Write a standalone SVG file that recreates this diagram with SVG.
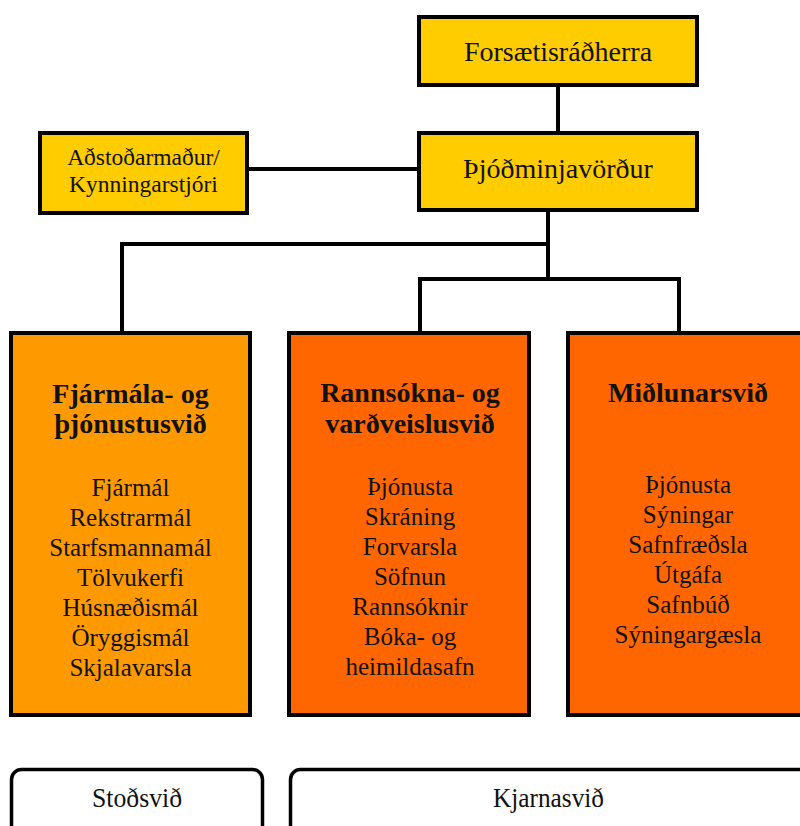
<svg xmlns="http://www.w3.org/2000/svg" width="800" height="826" viewBox="0 0 800 826">
<style>
.box{stroke:#000;stroke-width:4}
.y{fill:#FFCC00}
.o1{fill:#FF9900}
.o2{fill:#FF6600}
.t{font-family:'Liberation Serif','DejaVu Serif',serif;fill:#111;text-anchor:middle}
.h{font-weight:bold;font-size:28px}
.i{font-size:25px}
.conn{stroke:#000;stroke-width:4;fill:none}
.leg{fill:#fff;stroke:#000;stroke-width:3.5}
</style>
<rect width="800" height="826" fill="#fff"/>
<g id="connectors">
<line class="conn" x1="558" y1="87" x2="558" y2="131"/>
<line class="conn" x1="249" y1="169" x2="417" y2="169"/>
<polyline class="conn" points="548,212 548,279"/>
<polyline class="conn" points="548,244 122,244 122,331"/>
<polyline class="conn" points="420,331 420,279 679,279 679,331"/>
</g>
<g id="forsaetisradherra">
<rect class="box y" x="419" y="17" width="278" height="68"/>
<text class="t" x="558" y="61" font-size="28">Forsætisráðherra</text>
</g>
<g id="thjodminjavordur">
<rect class="box y" x="419" y="133" width="278" height="77"/>
<text class="t" x="558" y="178" font-size="28">Þjóðminjavörður</text>
</g>
<g id="adstodarmadur">
<rect class="box y" x="40" y="133" width="207" height="80"/>
<text class="t" x="143.5" y="165" font-size="23.5">Aðstoðarmaður/</text>
<text class="t" x="143.5" y="192" font-size="23.5">Kynningarstjóri</text>
</g>
<g id="fjarmala">
<rect class="box o1" x="11" y="333" width="239" height="382"/>
<text class="t h" x="130.5" y="403">Fjármála- og</text>
<text class="t h" x="130.5" y="433">þjónustusvið</text>
<text class="t i" x="130.5" y="496">Fjármál</text>
<text class="t i" x="130.5" y="526">Rekstrarmál</text>
<text class="t i" x="130.5" y="556">Starfsmannamál</text>
<text class="t i" x="130.5" y="586">Tölvukerfi</text>
<text class="t i" x="130.5" y="616">Húsnæðismál</text>
<text class="t i" x="130.5" y="646">Öryggismál</text>
<text class="t i" x="130.5" y="676">Skjalavarsla</text>
</g>
<g id="rannsokna">
<rect class="box o2" x="289" y="333" width="240" height="382"/>
<text class="t h" x="410" y="402">Rannsókna- og</text>
<text class="t h" x="410" y="433">varðveislusvið</text>
<text class="t i" x="410" y="495">Þjónusta</text>
<text class="t i" x="410" y="525">Skráning</text>
<text class="t i" x="410" y="555">Forvarsla</text>
<text class="t i" x="410" y="585">Söfnun</text>
<text class="t i" x="410" y="615">Rannsóknir</text>
<text class="t i" x="410" y="645">Bóka- og</text>
<text class="t i" x="410" y="675">heimildasafn</text>
</g>
<g id="midlunarsvid">
<rect class="box o2" x="568" y="333" width="250" height="382"/>
<text class="t h" x="688" y="402">Miðlunarsvið</text>
<text class="t i" x="688" y="493">Þjónusta</text>
<text class="t i" x="688" y="523">Sýningar</text>
<text class="t i" x="688" y="553">Safnfræðsla</text>
<text class="t i" x="688" y="583">Útgáfa</text>
<text class="t i" x="688" y="613">Safnbúð</text>
<text class="t i" x="688" y="643">Sýningargæsla</text>
</g>
<g id="stodsvid">
<rect class="leg" x="11.5" y="769.5" width="251" height="80" rx="10"/>
<text class="t" x="137" y="807" font-size="27" textLength="90" lengthAdjust="spacingAndGlyphs">Stoðsvið</text>
</g>
<g id="kjarnasvid">
<rect class="leg" x="290.5" y="769.5" width="540" height="80" rx="10"/>
<text class="t" x="548.5" y="807" font-size="27" textLength="111" lengthAdjust="spacingAndGlyphs">Kjarnasvið</text>
</g>
</svg>
